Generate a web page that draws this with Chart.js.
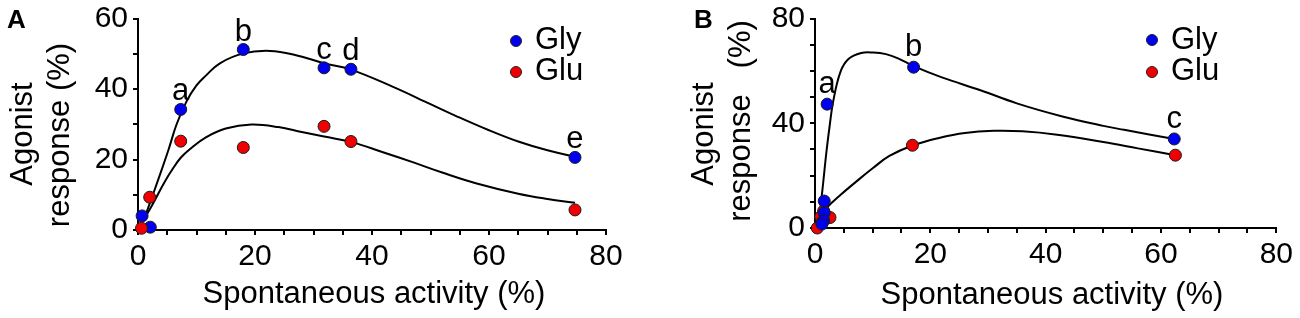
<!DOCTYPE html>
<html><head><meta charset="utf-8">
<script src="https://cdn.jsdelivr.net/npm/chart.js@4"></script>
<style>
html,body{margin:0;padding:0;background:#fff;}
#wrap{position:relative;width:1300px;height:318px;overflow:hidden;background:#fff;}
.panel{position:absolute;top:0;width:650px;height:318px;}
</style></head><body>
<div id="wrap">
<div class="panel" style="left:0"><canvas id="cA" width="650" height="318"></canvas></div>
<div class="panel" style="left:650px"><canvas id="cB" width="650" height="318"></canvas></div>
</div>
<script>
// ---------- data ----------
const seriesNames = ['Gly', 'Glu'];
const seriesColors = ['#0000f0', '#f00000'];
const xTickLabels = [0, 20, 40, 60, 80];
const yTickLabelsA = [0, 20, 40, 60];
const yTickLabelsB = [0, 40, 80];

// Panel A measured points
const aGlyX = [0.7, 2.1, 7.3, 18.0, 31.8, 36.4, 74.7];
const aGlyY = [4.0, 0.8, 34.2, 51.2, 46.0, 45.6, 20.6];
const aGlyLabels = ['', '', 'a', 'b', 'c', 'd', 'e'];
const aGluX = [0.6, 2.0, 7.3, 18.0, 31.8, 36.4, 74.7];
const aGluY = [0.5, 9.3, 25.2, 23.4, 29.4, 25.1, 5.7];
// Panel A fitted curves
const aGlyFitX = [1.0, 2.0, 3.5, 5.2, 6.6, 8.3, 10.0, 11.6, 14.0, 18.0, 22.6, 27.0, 31.8, 36.4, 43.6, 50.0, 54.3, 60.0, 65.0, 70.0, 74.7];
const aGlyFitY = [3.0, 7.5, 14.5, 22.7, 30.0, 36.5, 41.0, 43.8, 47.3, 50.1, 50.8, 49.6, 47.3, 45.5, 40.6, 35.7, 32.4, 28.3, 25.1, 22.6, 20.8];
const aGluFitX = [1.0, 2.0, 2.9, 4.5, 6.0, 7.3, 8.9, 11.6, 15.0, 19.4, 24.0, 28.0, 31.8, 36.4, 42.0, 47.2, 52.0, 57.9, 65.0, 70.0, 74.7];
const aGluFitY = [3.0, 5.8, 8.5, 13.5, 17.5, 20.5, 23.0, 26.3, 28.8, 29.9, 29.2, 27.8, 26.5, 25.0, 22.0, 19.1, 16.3, 13.2, 10.3, 8.8, 7.7];

// Panel B measured points
const bGlyX = [2.1, 17.1, 62.3, 1.6, 1.6, 1.5, 1.2];
const bGlyY = [47.3, 61.4, 34.0, 10.3, 5.8, 2.8, 1.5];
const bGlyLabels = ['a', 'b', 'c', '', '', '', ''];
const bGluX = [16.9, 62.5, 0.4, 2.6, 1.0, 1.5, 1.2];
const bGluY = [31.6, 27.8, 0.0, 4.0, 4.3, 6.5, 2.0];
// Panel B fitted curves
const bGlyFitX = [0.6, 1.15, 1.4, 2.0, 2.6, 3.15, 4.4, 5.8, 8.0, 10.1, 12.3, 14.4, 17.1, 22.0, 28.7, 35.0, 42.9, 50.0, 53.6, 62.3];
const bGlyFitY = [0.5, 11.8, 16.9, 29.4, 40.0, 48.3, 59.5, 64.5, 66.8, 67.0, 66.4, 64.8, 61.8, 57.5, 52.6, 47.6, 42.6, 39.0, 37.5, 34.0];
const bGluFitX = [0.5, 1.7, 3.0, 4.5, 7.2, 10.0, 12.9, 16.9, 21.5, 26.0, 31.0, 36.0, 42.0, 50.0, 56.0, 62.5];
const bGluFitY = [0.5, 6.8, 9.8, 12.8, 17.8, 22.8, 27.5, 31.5, 34.4, 36.3, 37.1, 36.9, 35.6, 32.8, 30.4, 27.8];

// ---------- helpers ----------
const FONT = '"Liberation Sans", Arial, Helvetica, sans-serif';
const zip = (xs, ys) => xs.map((x, i) => ({x: x, y: ys[i]}));

const textPlugin = {
  id: 'panelText',
  afterDraw(chart, args, o) {
    const ctx = chart.ctx, xS = chart.scales.x, yS = chart.scales.y;
    ctx.save();
    ctx.fillStyle = '#000';
    ctx.font = 'bold 26px ' + FONT;
    ctx.textAlign = 'left'; ctx.textBaseline = 'alphabetic';
    ctx.fillText(o.letter, o.letterPos[0], o.letterPos[1]);
    ctx.font = '31px ' + FONT;
    ctx.textAlign = 'center';
    o.yTitle.forEach((t, i) => {
      ctx.save();
      ctx.translate(o.yTitlePos[i][0], o.yTitlePos[i][1]);
      ctx.rotate(-Math.PI / 2);
      ctx.fillText(t, 0, 0);
      ctx.restore();
    });
    ctx.fillText(o.xTitle, o.xTitlePos[0], o.xTitlePos[1]);
    ctx.font = '31px ' + FONT;
    o.labels.forEach((t, i) => {
      if (!t) return;
      const px = xS.getPixelForValue(o.labelX[i]);
      const py = yS.getPixelForValue(o.labelY[i]);
      ctx.fillText(t, px, py - o.labelGap);
    });
    ctx.textAlign = 'left';
    seriesNames.forEach((n, i) => {
      const dy = o.legendY[i];
      ctx.beginPath();
      ctx.arc(o.legendDotX, dy, 5.5, 0, Math.PI * 2);
      ctx.fillStyle = seriesColors[i];
      ctx.fill();
      ctx.lineWidth = 1; ctx.strokeStyle = '#222'; ctx.stroke();
      ctx.fillStyle = '#000';
      ctx.font = '31px ' + FONT;
      ctx.fillText(n, o.legendTextX, o.legendBase[i]);
    });
    ctx.restore();
  }
};

function axisX(height) {
  return {
    type: 'linear', position: 'bottom', min: 0, max: 80,
    ticks: {stepSize: 5, autoSkip: false, maxRotation: 0, padding: 7, color: '#000',
      font: {family: FONT, size: 30, lineHeight: 1.0},
      callback: v => xTickLabels.includes(v) ? String(v) : ''},
    grid: {display: true, drawOnChartArea: false, drawTicks: true, tickLength: 5, color: '#000', lineWidth: 2},
    border: {display: true, color: '#000', width: 2},
    afterFit: s => { s.height = height; }
  };
}
function axisY(width, max, labels) {
  return {
    type: 'linear', position: 'left', min: 0, max: max,
    ticks: {stepSize: 10, autoSkip: false, padding: 5, color: '#000',
      font: {family: FONT, size: 30, lineHeight: 0.9},
      callback: v => labels.includes(v) ? String(v) : ''},
    grid: {display: true, drawOnChartArea: false, drawTicks: true, tickLength: 5, color: '#000', lineWidth: 2},
    border: {display: true, color: '#000', width: 2},
    afterFit: s => { s.width = width; }
  };
}
function pointSet(data, color) {
  return {type: 'scatter', data: data, showLine: false, order: 0, clip: false,
    pointRadius: 6, pointHoverRadius: 6, pointBackgroundColor: color, pointBorderColor: '#1a1a1a', pointBorderWidth: 1};
}
function fitSet(data) {
  return {type: 'line', data: data, order: 1, clip: false, borderColor: '#000', borderWidth: 2,
    pointRadius: 0, fill: false, tension: 0.4};
}

function makeChart(id, sets, scales, padding, textOpts) {
  return new Chart(document.getElementById(id), {
    type: 'scatter',
    data: {datasets: sets},
    options: {
      responsive: false, animation: false, devicePixelRatio: 1,
      layout: {padding: padding},
      plugins: {legend: {display: false}, tooltip: {enabled: false}, panelText: textOpts},
      scales: scales
    },
    plugins: [textPlugin]
  });
}

makeChart('cA',
  [pointSet(zip(aGluX, aGluY), seriesColors[1]), pointSet(zip(aGlyX, aGlyY), seriesColors[0]),
   fitSet(zip(aGlyFitX, aGlyFitY)), fitSet(zip(aGluFitX, aGluFitY))],
  {x: axisX(88), y: axisY(138, 60, yTickLabelsA)},
  {left: 0, top: 18, right: 44, bottom: 0},
  {letter: 'A', letterPos: [7, 28],
   yTitle: ['Agonist', 'response (%)'], yTitlePos: [[32, 134], [69, 135]],
   xTitle: 'Spontaneous activity (%)', xTitlePos: [374, 303],
   labels: aGlyLabels, labelX: aGlyX, labelY: aGlyY, labelGap: 9,
   legendDotX: 516, legendTextX: 535, legendY: [41, 72], legendBase: [49, 80]});

makeChart('cB',
  [pointSet(zip(bGlyX, bGlyY), seriesColors[0]), pointSet(zip(bGluX, bGluY), seriesColors[1]),
   fitSet(zip(bGlyFitX, bGlyFitY)), fitSet(zip(bGluFitX, bGluFitY))],
  {x: axisX(90), y: axisY(165, 80, yTickLabelsB)},
  {left: 0, top: 15, right: 21, bottom: 0},
  {letter: 'B', letterPos: [44, 28],
   yTitle: ['Agonist', 'response   (%)'], yTitlePos: [[63, 134], [100, 121]],
   xTitle: 'Spontaneous activity (%)', xTitlePos: [402, 304],
   labels: bGlyLabels, labelX: bGlyX, labelY: bGlyY, labelGap: 11,
   legendDotX: 502, legendTextX: 521, legendY: [40, 72], legendBase: [49, 80]});
</script>
</body></html>
